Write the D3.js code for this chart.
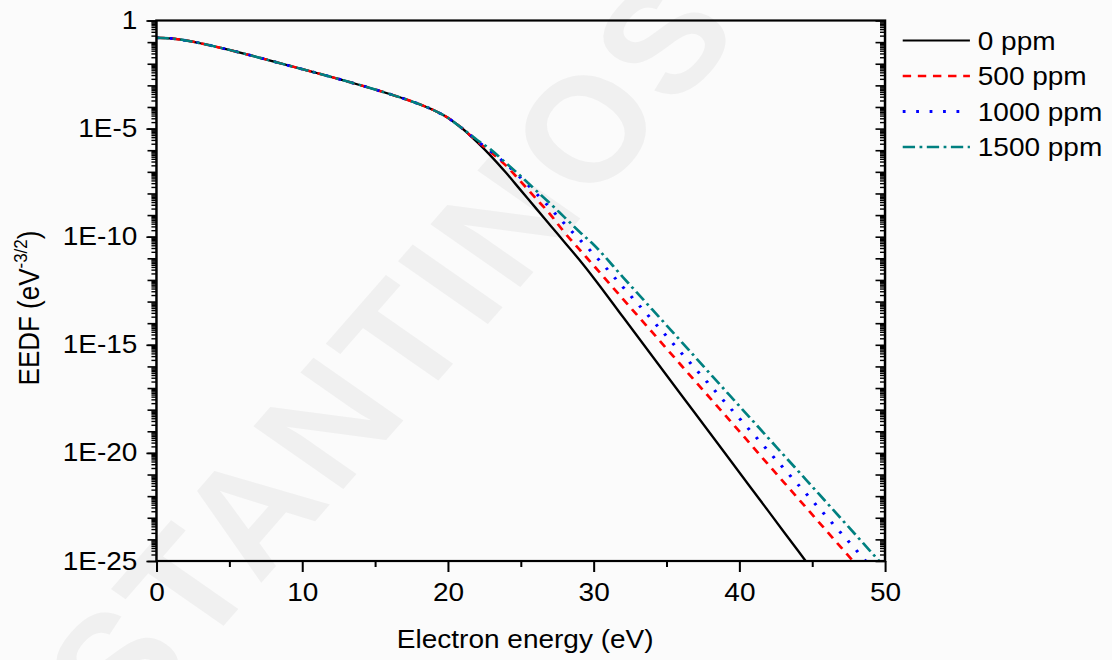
<!DOCTYPE html>
<html>
<head>
<meta charset="utf-8">
<script src="https://cdn.jsdelivr.net/npm/d3@7"></script>
<style>
  html, body { margin: 0; padding: 0; background: #fbfbfb; }
  svg { display: block; }
  text { font-family: "Liberation Sans", Arial, sans-serif; fill: #000; }
</style>
</head>
<body>
<svg id="chart"></svg>
<script>
// electron energy grid (eV)
const energy = [0, 1, 2, 3, 4, 5, 6, 7, 8, 9, 10, 11, 12, 13, 14, 15, 16, 17, 18, 19, 20,
  21, 22, 23, 24, 25, 26, 27, 28, 29, 30, 32, 34, 36, 38, 40, 42, 44, 46, 48, 50];

// EEDF values (eV^-3/2)
const eedf0 = [1.58e-1, 1.48e-1, 1.20e-1, 8.91e-2, 6.31e-2, 4.37e-2, 2.95e-2, 1.95e-2, 1.29e-2, 8.51e-3,
  5.62e-3, 3.72e-3, 2.45e-3, 1.58e-3, 1.02e-3, 6.46e-4, 3.98e-4, 2.40e-4, 1.38e-4, 7.24e-5, 3.16e-5,
  1.00e-5, 2.40e-6, 5.01e-7, 8.91e-8, 1.41e-8, 2.24e-9, 3.55e-10, 5.62e-11, 8.91e-12, 1.26e-12,
  2.0e-14, 3.16e-16, 5.01e-18, 7.94e-20, 1.26e-21, 2.0e-23, 3.16e-25, 5.01e-27, null, null];
const eedf500 = [1.58e-1, 1.48e-1, 1.20e-1, 8.91e-2, 6.31e-2, 4.37e-2, 2.95e-2, 1.95e-2, 1.29e-2, 8.51e-3,
  5.62e-3, 3.72e-3, 2.45e-3, 1.58e-3, 1.02e-3, 6.46e-4, 3.98e-4, 2.40e-4, 1.38e-4, 7.24e-5, 3.16e-5,
  1.00e-5, 2.63e-6, 7.59e-7, 1.91e-7, 3.55e-8, 6.31e-9, 1.12e-9, 1.58e-10, 2.69e-11, 4.68e-12,
  1.35e-13, 3.98e-15, 1.15e-16, 3.39e-18, 1.0e-19, 2.82e-21, 8.32e-23, 2.40e-24, 7.08e-26, null];
const eedf1000 = [1.58e-1, 1.48e-1, 1.20e-1, 8.91e-2, 6.31e-2, 4.37e-2, 2.95e-2, 1.95e-2, 1.29e-2, 8.51e-3,
  5.62e-3, 3.72e-3, 2.45e-3, 1.58e-3, 1.02e-3, 6.46e-4, 3.98e-4, 2.40e-4, 1.38e-4, 7.24e-5, 3.16e-5,
  1.00e-5, 2.75e-6, 8.32e-7, 2.29e-7, 5.25e-8, 1.10e-8, 2.19e-9, 3.98e-10, 7.94e-11, 1.58e-11,
  4.79e-13, 1.45e-14, 4.37e-16, 1.32e-17, 3.98e-19, 1.20e-20, 3.63e-22, 1.10e-23, 3.31e-25, 1.0e-26];
const eedf1500 = [1.58e-1, 1.48e-1, 1.20e-1, 8.91e-2, 6.31e-2, 4.37e-2, 2.95e-2, 1.95e-2, 1.29e-2, 8.51e-3,
  5.62e-3, 3.72e-3, 2.45e-3, 1.58e-3, 1.02e-3, 6.46e-4, 3.98e-4, 2.40e-4, 1.38e-4, 7.24e-5, 3.16e-5,
  1.00e-5, 3.02e-6, 1.0e-6, 2.51e-7, 6.31e-8, 1.48e-8, 3.55e-9, 7.94e-10, 1.78e-10, 4.27e-11,
  1.38e-12, 4.47e-14, 1.45e-15, 4.57e-17, 1.48e-18, 4.79e-20, 1.55e-21, 5.01e-23, 1.58e-24, 5.01e-26];

const seriesNames = ["0 ppm", "500 ppm", "1000 ppm", "1500 ppm"];
const seriesValues = [eedf0, eedf500, eedf1000, eedf1500];

const xTicks = [0, 10, 20, 30, 40, 50];
const xMinorTicks = [5, 15, 25, 35, 45];
const yLabelTicks = [1e-25, 1e-20, 1e-15, 1e-10, 1e-5, 1];
const yLabelText = ["1E-25", "1E-20", "1E-15", "1E-10", "1E-5", "1"];

// the picture is a bit wider than tall in its glyphs, so draw in a narrower
// box and let the svg stretch it out to the window
const W = 1112, H = 660, stretch = 1.12;
const VW = W / stretch;

const styles = [
  { color: "#000000", width: 2.2, dash: null },
  { color: "#ff0000", width: 2.5, dash: "7.5 6" },
  { color: "#0000ff", width: 2.8, dash: "2.5 9.5" },
  { color: "#008080", width: 2.5, dash: "11 4 2.5 4" }
];

const m = { left: 139.7, right: VW - 790.2, top: 20.5, bottom: H - 561 };

const svg = d3.select("#chart")
  .attr("width", W)
  .attr("height", H)
  .attr("viewBox", `0 0 ${VW} ${H}`)
  .attr("preserveAspectRatio", "none");

// faint watermark behind everything
svg.append("text")
  .attr("transform", "translate(350,350) rotate(-52)")
  .attr("text-anchor", "middle")
  .attr("dominant-baseline", "central")
  .attr("font-size", 148)
  .attr("font-weight", "bold")
  .attr("letter-spacing", 6)
  .style("fill", "#f0f0f0")
  .text("STANTINOS");

const x = d3.scaleLinear().domain([0, 50]).range([m.left, VW - m.right]);
const y = d3.scaleLog().domain([1e-25, 1]).range([H - m.bottom, m.top]);

// decade and minor positions for the log axis
const decades = d3.range(-25, 1).map(e => Math.pow(10, e));
const minors = [];
d3.range(-25, 0).forEach(e => {
  for (let k = 2; k <= 9; k++) minors.push(k * Math.pow(10, e));
});

svg.append("defs").append("clipPath")
  .attr("id", "plot")
  .append("rect")
  .attr("x", x(0)).attr("y", y(1))
  .attr("width", x(50) - x(0)).attr("height", y(1e-25) - y(1));

// curves
const line = d3.line()
  .defined(d => d.v != null)
  .x(d => x(d.e))
  .y(d => y(d.v))
  .curve(d3.curveMonotoneX);

const curves = svg.append("g").attr("clip-path", "url(#plot)");
seriesValues.forEach((vals, i) => {
  const pts = energy.map((e, j) => ({ e: e, v: vals[j] }));
  curves.append("path")
    .datum(pts)
    .attr("fill", "none")
    .attr("stroke", styles[i].color)
    .attr("stroke-width", styles[i].width)
    .attr("stroke-dasharray", styles[i].dash)
    .attr("d", line);
});

// axes
function tidy(g, w) {
  g.select(".domain").remove();
  g.selectAll(".tick line").attr("stroke", "#000").attr("stroke-width", w);
  g.selectAll(".tick text").attr("font-size", 25).attr("fill", "#000")
    .attr("font-family", "'Liberation Sans', Arial, sans-serif");
}

svg.append("g")
  .attr("transform", `translate(0,${y(1e-25)})`)
  .call(d3.axisBottom(x).tickValues(xMinorTicks).tickSize(6).tickFormat(""))
  .call(g => tidy(g, 1.8));

svg.append("g")
  .attr("transform", `translate(0,${y(1e-25)})`)
  .call(d3.axisBottom(x).tickValues(xTicks).tickSize(11).tickPadding(11).tickFormat(d3.format("d")))
  .call(g => tidy(g, 1.8));

const left = svg.append("g").attr("transform", `translate(${x(0)},0)`);
left.append("g")
  .call(d3.axisLeft(y).tickValues(minors).tickSize(4.5).tickFormat(""))
  .call(g => tidy(g, 1.4));
left.append("g")
  .call(d3.axisLeft(y).tickValues(decades).tickSize(8).tickFormat(""))
  .call(g => tidy(g, 1.6));
left.append("g")
  .call(d3.axisLeft(y).tickValues(yLabelTicks).tickSize(9).tickPadding(8)
    .tickFormat((d, i) => yLabelText[i]))
  .call(g => tidy(g, 1.6));

const right = svg.append("g").attr("transform", `translate(${x(50)},0)`);
right.append("g")
  .call(d3.axisRight(y).tickValues(minors).tickSize(-4.5).tickFormat(""))
  .call(g => tidy(g, 1.4));
right.append("g")
  .call(d3.axisRight(y).tickValues(decades).tickSize(-8.5).tickFormat(""))
  .call(g => tidy(g, 1.6));

// frame
svg.append("rect")
  .attr("x", x(0)).attr("y", y(1))
  .attr("width", x(50) - x(0)).attr("height", y(1e-25) - y(1))
  .attr("fill", "none")
  .attr("stroke", "#000")
  .attr("stroke-width", 2.2);

// axis titles
svg.append("text")
  .attr("x", (x(0) + x(50)) / 2 + 4)
  .attr("y", 648)
  .attr("text-anchor", "middle")
  .attr("font-size", 25)
  .text("Electron energy (eV)");

const yt = svg.append("text")
  .attr("transform", "translate(35,308) rotate(-90)")
  .attr("text-anchor", "middle")
  .attr("font-size", 26);
yt.append("tspan").text("EEDF (eV");
yt.append("tspan").attr("font-size", 17).attr("dy", -11).text("-3/2");
yt.append("tspan").attr("dy", 11).text(")");

// legend
const legend = svg.append("g");
seriesNames.forEach((name, i) => {
  const ly = 40.5 + i * 35.5;
  legend.append("line")
    .attr("x1", 806).attr("x2", 866)
    .attr("y1", ly).attr("y2", ly)
    .attr("stroke", styles[i].color)
    .attr("stroke-width", styles[i].width)
    .attr("stroke-dasharray", styles[i].dash);
  legend.append("text")
    .attr("x", 873)
    .attr("y", ly + 9.5)
    .attr("font-size", 25)
    .text(name);
});
</script>
</body>
</html>
